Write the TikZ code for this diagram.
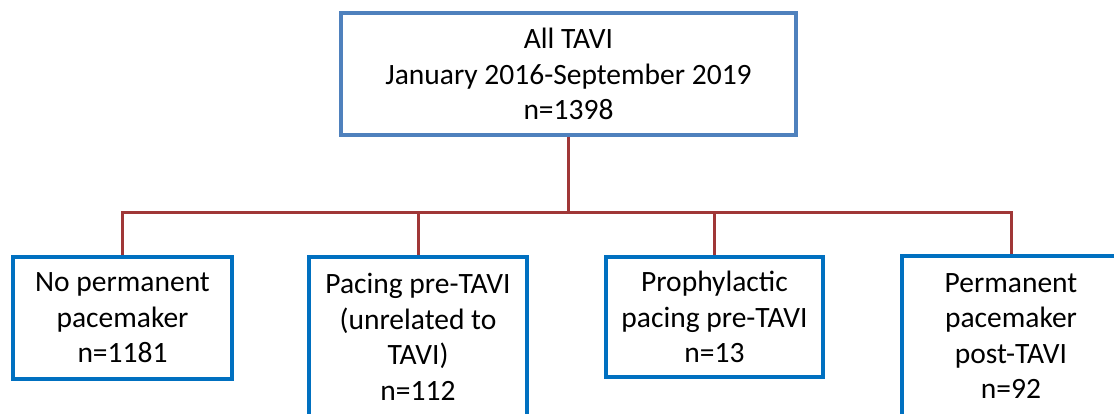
\documentclass[tikz,border=0pt]{standalone}
\usepackage{fontspec}
\setmainfont{Carlito}
\definecolor{topblue}{RGB}{79,129,189}
\definecolor{boxblue}{RGB}{0,112,192}
\definecolor{linkred}{RGB}{160,55,55}
\tikzset{
  topbox/.style={draw=topblue, line width=3.2pt, inner sep=0pt, align=center,
    font=\fontsize{29.5}{35.5}\selectfont},
  subbox/.style={draw=boxblue, line width=3.4pt, inner sep=0pt, align=center,
    font=\fontsize{29.5}{35.5}\selectfont},
  link/.style={draw=linkred, line width=3pt}
}
\begin{document}
\begin{tikzpicture}[x=1pt,y=1pt]
\useasboundingbox (0,0) rectangle (1114,413);
\clip (0,0) rectangle (1114,413);
\node[topbox, minimum width=455pt, minimum height=122pt] (top) at (568.5,339)
  {All TAVI\\January 2016-September 2019\\n=1398};
\node[subbox, minimum width=219pt, minimum height=122pt] (b1) at (122.5,95)
  {No permanent\\pacemaker\\n=1181};
\node[subbox, minimum width=218pt, minimum height=160pt] (b2) at (418,76)
  {Pacing pre-TAVI\\(unrelated to\\TAVI)\\n=112};
\node[subbox, minimum width=217pt, minimum height=120pt] (b3) at (714.5,96)
  {Prophylactic\\pacing pre-TAVI\\n=13};
\node[subbox, minimum width=218pt, minimum height=160pt] (b4) at (1011,77)
  {Permanent\\pacemaker\\post-TAVI\\n=92};
\coordinate (j) at (568.5,201);
\draw[link] (top.south) -- (j);
\draw[link] (b1.north) |- (j);
\draw[link] (b4.north) |- (j);
\draw[link] (b2.north) -- (b2.north |- j);
\draw[link] (b3.north) -- (b3.north |- j);
\end{tikzpicture}
\end{document}
